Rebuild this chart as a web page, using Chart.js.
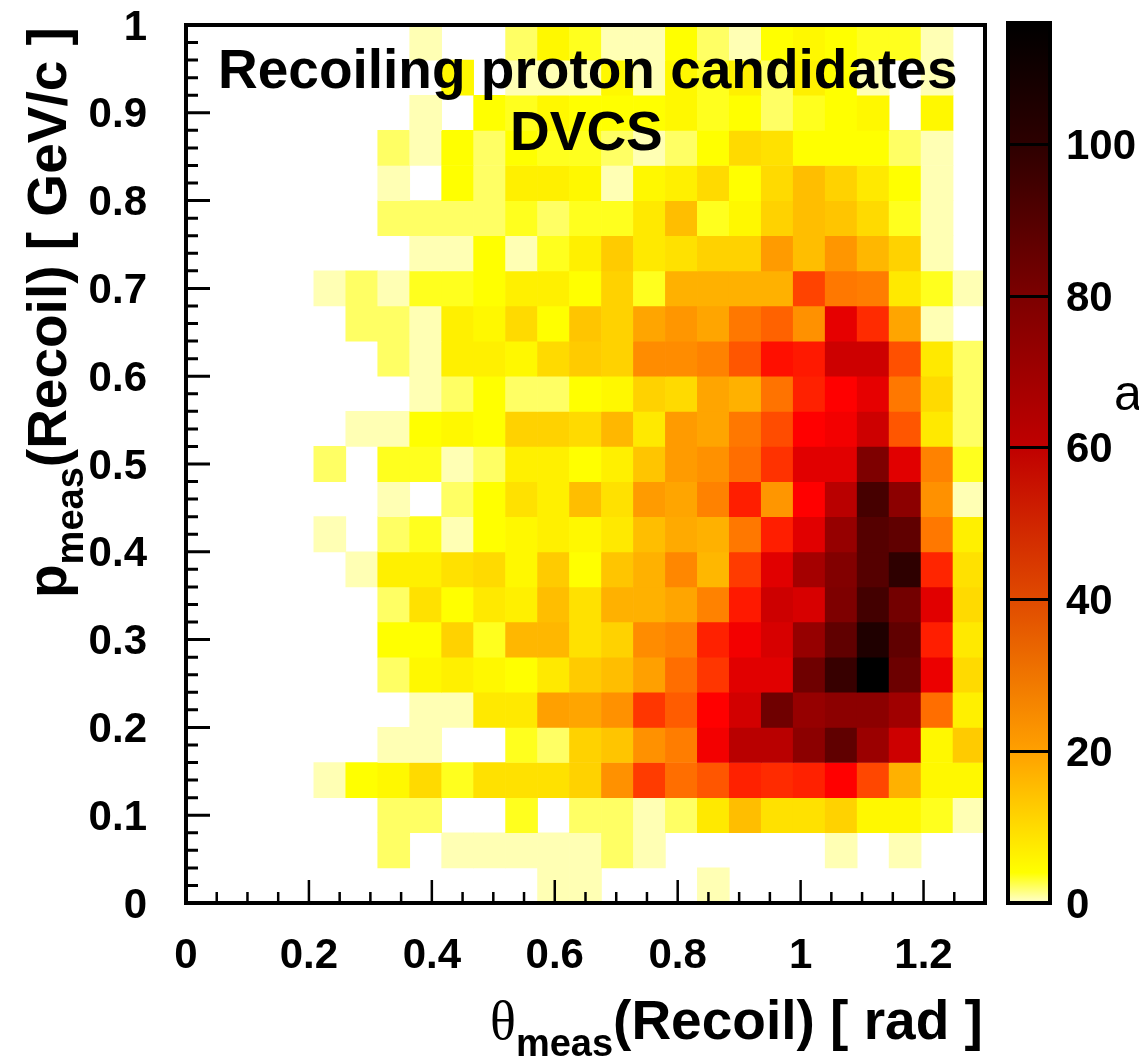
<!DOCTYPE html>
<html lang="en">

<head>
    <meta charset="UTF-8">
    <title>Recoiling proton candidates DVCS</title>
    <script src="https://cdn.jsdelivr.net/npm/chart.js@4"></script>
    <style>
        html, body { margin: 0; padding: 0; background: #fff; }
        #page { position: relative; width: 1139px; height: 1059px; overflow: hidden; background: #fff; }
        canvas { position: absolute; top: 0; }
        #heatmap { left: 0; }
        #colorbar { left: 990px; }
        .label { position: absolute; white-space: nowrap; color: #000; line-height: 55px;
                 font: bold 55px/55px "Liberation Sans", Arial, sans-serif; }
        .sub { font-size: 38px; position: relative; top: 17px; }
        .theta { font: 54px/55px "Liberation Serif", serif; }
    </style>
</head>

<body>
    <div id="page">
        <canvas id="heatmap" width="1000" height="1059"></canvas>
        <canvas id="colorbar" width="149" height="1059"></canvas>
        <div class="label" style="left:218px;top:42px">Recoiling proton candidates</div>
        <div class="label" style="left:510px;top:104px">DVCS</div>
        <div class="label" style="left:490px;top:993px"><span class="theta">θ</span><span class="sub">meas</span>(Recoil) [ rad ]</div>
        <div class="label" style="left:20px;top:598px;transform:rotate(-90deg);transform-origin:0 0">p<span class="sub">meas</span>(Recoil) [ GeV/c ]</div>
        <div class="label" style="left:1114px;top:366px;font:normal 50px/55px 'Liberation Sans',sans-serif">a</div>
    </div>

    <script>
        // bin low edges
        const thetaBins = [0, 0.052, 0.104, 0.156, 0.208, 0.26, 0.312, 0.364, 0.416, 0.468, 0.52, 0.572, 0.624,
            0.676, 0.728, 0.78, 0.832, 0.884, 0.936, 0.988, 1.04, 1.092, 1.144, 1.196, 1.248];
        const pBins = [0, 0.04, 0.08, 0.12, 0.16, 0.2, 0.24, 0.28, 0.32, 0.36, 0.4, 0.44, 0.48,
            0.52, 0.56, 0.6, 0.64, 0.68, 0.72, 0.76, 0.8, 0.84, 0.88, 0.92, 0.96];
        const thetaBinWidth = 0.052;
        const pBinWidth = 0.04;

        // counts per bin, first line is the lowest p row
        const counts = [
            [0, 0, 0, 0, 0, 0, 0, 0, 0, 0, 0, 1, 1, 0, 0, 0, 1, 0, 0, 0, 0, 0, 0, 0, 0],
            [0, 0, 0, 0, 0, 0, 2, 0, 1, 1, 1, 1, 1, 2, 1, 0, 0, 0, 0, 0, 1, 0, 1, 0, 0],
            [0, 0, 0, 0, 0, 0, 2, 2, 0, 0, 3, 0, 2, 2, 1, 2, 7, 13, 8, 8, 10, 5, 5, 3, 1],
            [0, 0, 0, 0, 1, 4, 5, 9, 3, 8, 8, 8, 10, 21, 38, 28, 32, 45, 42, 45, 52, 35, 15, 5, 5],
            [0, 0, 0, 0, 0, 0, 1, 1, 0, 0, 3, 2, 10, 12, 21, 25, 54, 65, 65, 74, 85, 71, 61, 5, 11],
            [0, 0, 0, 0, 0, 0, 0, 1, 1, 7, 7, 18, 17, 21, 39, 31, 52, 60, 81, 72, 74, 74, 70, 28, 6],
            [0, 0, 0, 0, 0, 0, 2, 5, 6, 5, 4, 7, 11, 13, 18, 28, 39, 57, 57, 81, 97, 116, 82, 55, 9],
            [0, 0, 0, 0, 0, 0, 4, 4, 10, 3, 14, 14, 8, 10, 22, 24, 45, 54, 59, 72, 85, 105, 85, 46, 7],
            [0, 0, 0, 0, 0, 0, 2, 8, 4, 7, 6, 13, 8, 15, 15, 17, 24, 47, 61, 59, 77, 93, 80, 57, 9],
            [0, 0, 0, 0, 0, 1, 6, 6, 8, 9, 5, 11, 4, 12, 15, 23, 14, 38, 57, 69, 76, 88, 100, 44, 8],
            [0, 0, 0, 0, 1, 0, 2, 3, 1, 4, 5, 6, 5, 7, 13, 16, 15, 26, 46, 57, 72, 88, 85, 26, 6],
            [0, 0, 0, 0, 0, 0, 1, 0, 2, 4, 8, 6, 13, 8, 19, 17, 24, 46, 20, 52, 65, 92, 74, 21, 1],
            [0, 0, 0, 0, 2, 0, 3, 3, 1, 2, 6, 6, 4, 6, 12, 19, 21, 28, 40, 57, 57, 77, 57, 24, 3],
            [0, 0, 0, 0, 0, 1, 1, 4, 5, 4, 10, 10, 9, 14, 7, 19, 17, 26, 34, 52, 54, 61, 32, 7, 2],
            [0, 0, 0, 0, 0, 0, 0, 1, 2, 4, 2, 2, 4, 5, 10, 9, 17, 15, 27, 45, 52, 56, 26, 9, 2],
            [0, 0, 0, 0, 0, 0, 2, 1, 6, 6, 5, 9, 11, 10, 22, 22, 24, 32, 49, 47, 61, 61, 33, 7, 2],
            [0, 0, 0, 0, 0, 2, 2, 1, 6, 5, 9, 4, 12, 10, 17, 20, 17, 26, 30, 21, 56, 42, 17, 1, 0],
            [0, 0, 0, 0, 1, 2, 1, 3, 3, 4, 6, 6, 4, 10, 3, 15, 15, 15, 15, 36, 26, 25, 7, 3, 1],
            [0, 0, 0, 0, 0, 0, 0, 1, 1, 4, 1, 3, 6, 11, 7, 8, 10, 10, 19, 13, 20, 14, 10, 1, 0],
            [0, 0, 0, 0, 0, 0, 2, 2, 2, 2, 3, 2, 3, 3, 7, 13, 3, 5, 10, 13, 12, 9, 3, 1, 0],
            [0, 0, 0, 0, 0, 0, 1, 0, 4, 2, 6, 6, 5, 1, 5, 6, 9, 4, 9, 13, 10, 7, 4, 1, 0],
            [0, 0, 0, 0, 0, 0, 2, 1, 4, 2, 4, 3, 3, 2, 1, 2, 4, 9, 8, 4, 4, 4, 2, 1, 0],
            [0, 0, 0, 0, 0, 0, 0, 1, 0, 4, 3, 5, 4, 4, 4, 5, 3, 4, 2, 3, 4, 5, 0, 5, 0],
            [0, 0, 0, 0, 0, 0, 0, 0, 5, 0, 1, 1, 1, 5, 1, 5, 3, 6, 2, 6, 4, 1, 0, 1, 0],
            [0, 0, 0, 0, 0, 0, 0, 1, 0, 0, 2, 5, 3, 1, 1, 4, 2, 1, 4, 5, 4, 3, 3, 1, 0]
        ];

        // axis ticks
        const thetaTicks = [0, 0.2, 0.4, 0.6, 0.8, 1, 1.2];
        const thetaMinorTicks = [0.05, 0.1, 0.15, 0.25, 0.3, 0.35, 0.45, 0.5, 0.55, 0.65, 0.7, 0.75,
            0.85, 0.9, 0.95, 1.05, 1.1, 1.15, 1.25];
        const pTicks = [0, 0.1, 0.2, 0.3, 0.4, 0.5, 0.6, 0.7, 0.8, 0.9, 1];
        const pMinorTicks = [0.02, 0.04, 0.06, 0.08, 0.12, 0.14, 0.16, 0.18, 0.22, 0.24, 0.26, 0.28,
            0.32, 0.34, 0.36, 0.38, 0.42, 0.44, 0.46, 0.48, 0.52, 0.54, 0.56, 0.58, 0.62, 0.64, 0.66, 0.68,
            0.72, 0.74, 0.76, 0.78, 0.82, 0.84, 0.86, 0.88, 0.92, 0.94, 0.96, 0.98];
        const colorTicks = [0, 20, 40, 60, 80, 100];
        const colorMax = 116;

        // palette of the cells
        const paletteValues = [0, 1, 2, 3, 4, 6, 8, 10, 13, 16, 20, 24, 28, 33, 40, 46, 52, 56, 62, 70, 76, 84, 92, 102, 116];
        const paletteColors = [[255, 255, 255], [255, 255, 180], [255, 255, 100], [255, 255, 30], [255, 255, 0],
            [255, 240, 0], [255, 225, 0], [255, 210, 0], [255, 190, 0], [255, 170, 0], [255, 150, 0], [255, 130, 0],
            [255, 110, 0], [255, 80, 0], [255, 50, 0], [255, 30, 0], [255, 0, 0], [230, 0, 0], [200, 0, 0], [160, 0, 0],
            [130, 0, 0], [100, 0, 0], [70, 0, 0], [40, 0, 0], [0, 0, 0]];

        // the colour bar in the picture is a bit duller than the cells
        const barValues = [0, 4, 20, 40, 60, 80, 100, 116];
        const barColors = ['#ffffd0', '#ffff00', '#ffa000', '#e04a00', '#c00000', '#7c0000', '#2d0000', '#000000'];

        function cellColor(v) {
            let i = 1;
            while (i < paletteValues.length - 1 && v > paletteValues[i]) i++;
            const t = (v - paletteValues[i - 1]) / (paletteValues[i] - paletteValues[i - 1]);
            const a = paletteColors[i - 1], b = paletteColors[i];
            const c = a.map((x, k) => Math.round(x + (b[k] - x) * t));
            return `rgb(${c[0]},${c[1]},${c[2]})`;
        }

        // every non empty bin becomes one floating bar
        const cells = [];
        const cellColors = [];
        counts.forEach((row, r) => {
            row.forEach((v, c) => {
                if (v === 0) return;
                cells.push({ x: thetaBins[c] + thetaBinWidth / 2, y: [pBins[r], pBins[r] + pBinWidth] });
                cellColors.push(cellColor(v));
            });
        });

        const tickFont = { family: '"Liberation Sans", Arial, sans-serif', size: 42, weight: 'bold' };

        // scales ask for room for half a label past their ends, the frame has to stay put
        function noScalePadding(s) {
            s.paddingTop = 0;
            s.paddingBottom = 0;
            s.paddingLeft = 0;
            s.paddingRight = 0;
        }

        // ROOT style frame with ticks pointing inwards
        const frameAndTicks = {
            id: 'frameAndTicks',
            afterDatasetsDraw(chart) {
                const { ctx, chartArea: a, scales: { x, y } } = chart;
                ctx.save();
                ctx.strokeStyle = '#000';
                ctx.lineWidth = 2.5;
                ctx.beginPath();
                thetaTicks.concat(thetaMinorTicks).forEach(v => {
                    const len = thetaTicks.includes(v) ? 23 : 11;
                    ctx.moveTo(x.getPixelForValue(v), a.bottom);
                    ctx.lineTo(x.getPixelForValue(v), a.bottom - len);
                });
                ctx.stroke();
                ctx.lineWidth = 3;
                ctx.beginPath();
                pTicks.concat(pMinorTicks).forEach(v => {
                    const len = pTicks.includes(v) ? 24 : 12;
                    ctx.moveTo(a.left, y.getPixelForValue(v));
                    ctx.lineTo(a.left + len, y.getPixelForValue(v));
                });
                ctx.stroke();
                ctx.lineWidth = 4;
                ctx.strokeRect(a.left, a.top, a.right - a.left, a.bottom - a.top);
                ctx.restore();
            }
        };

        new Chart(document.getElementById('heatmap'), {
            type: 'bar',
            data: {
                datasets: [{
                    label: 'counts',
                    data: cells,
                    backgroundColor: cellColors,
                    borderWidth: 0,
                    barPercentage: 1,
                    categoryPercentage: 1,
                    grouped: false
                }]
            },
            options: {
                responsive: false,
                animation: false,
                devicePixelRatio: 1,
                layout: { autoPadding: false, padding: { top: 25, right: 15, left: 0, bottom: 0 } },
                plugins: { legend: { display: false }, tooltip: { enabled: false } },
                scales: {
                    x: {
                        type: 'linear',
                        min: 0,
                        max: 1.3,
                        offset: false,
                        grid: { display: false, offset: false, drawTicks: false },
                        border: { display: false },
                        afterBuildTicks: s => { s.ticks = thetaTicks.map(v => ({ value: v })); },
                        afterFit: s => { s.height = 156; noScalePadding(s); },
                        ticks: { font: tickFont, color: '#000', padding: 28, maxRotation: 0, autoSkip: false, callback: v => String(v) }
                    },
                    y: {
                        type: 'linear',
                        min: 0,
                        max: 1,
                        grid: { display: false, drawTicks: false },
                        border: { display: false },
                        afterBuildTicks: s => { s.ticks = pTicks.map(v => ({ value: v })); },
                        afterFit: s => { s.width = 186; noScalePadding(s); },
                        ticks: { font: tickFont, color: '#000', padding: 39, labelOffset: 3, autoSkip: false, callback: v => String(v) }
                    }
                }
            },
            plugins: [frameAndTicks]
        });

        // colour bar, one bar with a gradient following the value scale
        function barGradient(context) {
            const { ctx, chartArea } = context.chart;
            if (!chartArea) return '#000';
            const g = ctx.createLinearGradient(0, chartArea.bottom, 0, chartArea.top);
            barValues.forEach((v, i) => g.addColorStop(v / colorMax, barColors[i]));
            return g;
        }

        new Chart(document.getElementById('colorbar'), {
            type: 'bar',
            data: {
                labels: ['palette'],
                datasets: [{
                    data: [[0, colorMax]],
                    backgroundColor: barGradient,
                    borderWidth: 0,
                    barPercentage: 1,
                    categoryPercentage: 1
                }]
            },
            options: {
                responsive: false,
                animation: false,
                devicePixelRatio: 1,
                layout: { autoPadding: false, padding: { top: 23, left: 18, right: 0, bottom: 156 } },
                plugins: { legend: { display: false }, tooltip: { enabled: false } },
                scales: {
                    x: { display: false },
                    y: {
                        position: 'right',
                        min: 0,
                        max: colorMax,
                        grid: { color: '#000', lineWidth: 3, z: 1, drawTicks: false },
                        border: { display: false },
                        afterBuildTicks: s => { s.ticks = colorTicks.map(v => ({ value: v })); },
                        afterFit: s => { s.width = 89; noScalePadding(s); },
                        ticks: { font: tickFont, color: '#000', padding: 16, labelOffset: 3, autoSkip: false, callback: v => String(v) }
                    }
                }
            },
            plugins: [{
                id: 'barFrame',
                afterDatasetsDraw(chart) {
                    const { ctx, chartArea: a } = chart;
                    ctx.save();
                    ctx.strokeStyle = '#000';
                    ctx.lineWidth = 4;
                    ctx.strokeRect(a.left, a.top, a.right - a.left, a.bottom - a.top);
                    ctx.restore();
                }
            }]
        });
    </script>
</body>

</html>
